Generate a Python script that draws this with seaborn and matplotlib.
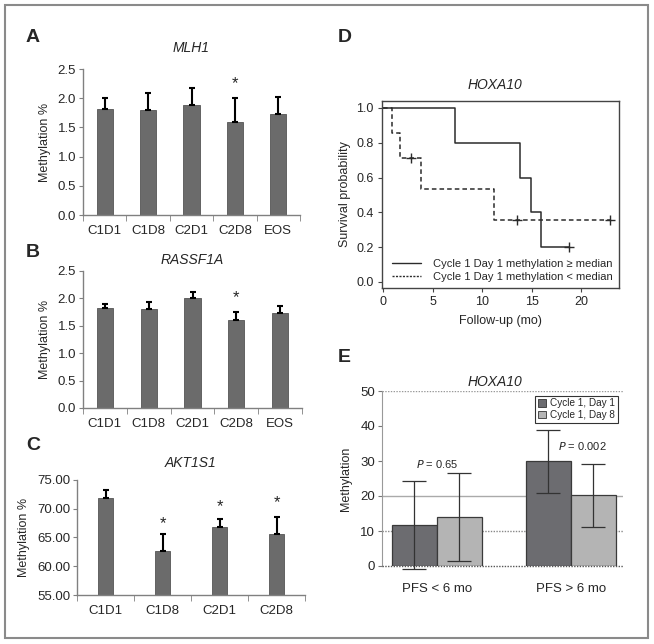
import numpy as np
import pandas as pd
import matplotlib as mpl
import matplotlib.pyplot as plt
import seaborn as sns
from matplotlib.patches import Rectangle, Patch
from matplotlib.lines import Line2D
from matplotlib.ticker import FormatStrFormatter, FixedLocator

sns.set_style("white")
plt.rcParams["font.family"] = ["Liberation Sans", "DejaVu Sans"]
mpl.rcParams["axes.unicode_minus"] = False

# --- data ---
visits5 = ["C1D1", "C1D8", "C2D1", "C2D8", "EOS"]
visits4 = ["C1D1", "C1D8", "C2D1", "C2D8"]

mlh1_mean = [1.82, 1.80, 1.88, 1.60, 1.73]
mlh1_err = [0.18, 0.29, 0.30, 0.40, 0.29]

rassf1a_mean = [1.82, 1.80, 2.00, 1.60, 1.73]
rassf1a_err = [0.08, 0.13, 0.12, 0.15, 0.13]

akt1s1_mean = [71.8, 62.7, 66.8, 65.6]
akt1s1_err = [1.4, 2.9, 1.4, 3.0]

# Kaplan-Meier steps (HOXA10)
hi_time = [0, 7.25, 13.8, 14.9, 15.9, 18.75]
hi_surv = [1.0, 0.8, 0.6, 0.4, 0.2, 0.2]
lo_time = [0, 0.9, 1.7, 3.85, 11.2, 22.9]
lo_surv = [1.0, 0.857, 0.714, 0.536, 0.357, 0.357]
hi_cens_t = [18.75]
hi_cens_s = [0.2]
lo_cens_t = [2.8, 13.5, 22.9]
lo_cens_s = [0.714, 0.357, 0.357]

pfs_groups = ["PFS < 6 mo", "PFS > 6 mo"]
cycles = ["Cycle 1, Day 1", "Cycle 1, Day 8"]
hoxa_mean = {"Cycle 1, Day 1": [11.8, 30.0], "Cycle 1, Day 8": [13.9, 20.2]}
hoxa_sd = {"Cycle 1, Day 1": [12.6, 9.0], "Cycle 1, Day 8": [12.6, 9.0]}
pvals = ["0.65", "0.002"]

W, H = 654, 644
fig = plt.figure(figsize=(W / 100, H / 100), dpi=100)


def ax_px(l, r, t, b):
    return fig.add_axes([l / W, 1 - b / H, (r - l) / W, (b - t) / H])


def ftext(x, y, s, **kw):
    fig.text(x / W, 1 - y / H, s, **kw)


spine_c = "#808080"
bar_c = "#6b6b6b"
fs = 9.5


def bar_panel(ax, cats, mean, err, width, ylim, ticks, fmt):
    df = pd.DataFrame({"visit": cats, "val": mean})
    sns.barplot(data=df, x="visit", y="val", color=bar_c, width=width,
                saturation=1, edgecolor="#555555", linewidth=0.6, ax=ax, zorder=2)
    ax.errorbar(range(len(cats)), mean, yerr=[np.zeros(len(cats)), err],
                fmt="none", ecolor="black", elinewidth=1.5, capsize=2.5,
                capthick=1.5, zorder=3)
    ax.set_ylim(*ylim)
    ax.set_xlim(-0.5, len(cats) - 0.5)
    ax.set_yticks(ticks)
    ax.yaxis.set_major_formatter(FormatStrFormatter(fmt))
    ax.set_xlabel("")
    ax.set_ylabel("Methylation %", fontsize=9, labelpad=5)
    for s in ["top", "right"]:
        ax.spines[s].set_visible(False)
    for s in ["left", "bottom"]:
        ax.spines[s].set_color(spine_c)
        ax.spines[s].set_linewidth(1.0)
    ax.tick_params(axis="y", left=True, length=3, color=spine_c, labelsize=fs, pad=2)
    ax.tick_params(axis="x", which="major", bottom=False, length=0, labelsize=fs, pad=7)
    ax.xaxis.set_minor_locator(FixedLocator(np.arange(-0.5, len(cats), 1.0)))
    ax.tick_params(axis="x", which="minor", bottom=True, length=4, color=spine_c)


# Panel A
axA = ax_px(83, 300, 69, 215)
bar_panel(axA, visits5, mlh1_mean, mlh1_err, 0.37, (0, 2.5),
          np.arange(0, 2.51, 0.5), "%.1f")
axA.text(3, 2.25, "*", ha="center", va="center", fontsize=12)

# Panel B
axB = ax_px(83, 302, 271, 408)
bar_panel(axB, visits5, rassf1a_mean, rassf1a_err, 0.37, (0, 2.5),
          np.arange(0, 2.51, 0.5), "%.1f")
axB.text(3, 2.01, "*", ha="center", va="center", fontsize=12)

# Panel C
axC = ax_px(77, 305, 480, 595)
bar_panel(axC, visits4, akt1s1_mean, akt1s1_err, 0.27, (55, 75),
          np.arange(55, 75.1, 5), "%.2f")
for i, yy in zip([1, 2, 3], [67.5, 70.4, 71.0]):
    axC.text(i, yy, "*", ha="center", va="center", fontsize=12)

# Panel D: Kaplan-Meier
axD = ax_px(382, 619, 101, 288)
km_c = "#2b2b2b"
sns.lineplot(x=hi_time, y=hi_surv, drawstyle="steps-post", color=km_c,
             lw=1.1, estimator=None, ax=axD)
sns.lineplot(x=lo_time, y=lo_surv, drawstyle="steps-post", color=km_c,
             lw=1.1, estimator=None, ax=axD, linestyle=(0, (3, 2)))
axD.plot(hi_cens_t, hi_cens_s, "+", color=km_c, ms=7, mew=1.0)
axD.plot(lo_cens_t, lo_cens_s, "+", color=km_c, ms=7, mew=1.0)
axD.set_xlim(-0.1, 23.8)
axD.set_ylim(-0.035, 1.04)
axD.set_xticks([0, 5, 10, 15, 20])
axD.set_yticks(np.arange(0, 1.01, 0.2))
axD.yaxis.set_major_formatter(FormatStrFormatter("%.1f"))
axD.set_xlabel("Follow-up (mo)", fontsize=9, labelpad=5)
axD.set_ylabel("Survival probability", fontsize=9, labelpad=4)
for s in axD.spines.values():
    s.set_color("#444444")
    s.set_linewidth(1.0)
axD.tick_params(left=True, bottom=True, length=3, color="#444444", labelsize=9, pad=3)
leg_handles = [Line2D([], [], color=km_c, lw=1.0),
               Line2D([], [], color=km_c, lw=1.0, linestyle=(0, (1.5, 1)))]
axD.legend(leg_handles, ["Cycle 1 Day 1 methylation \u2265 median",
                         "Cycle 1 Day 1 methylation < median"],
           loc="lower right", frameon=False, fontsize=8, handlelength=2.6,
           borderaxespad=0.15, labelspacing=0.3, handletextpad=1.1)

# Panel E: grouped bars
axE = ax_px(382, 623, 391, 566)
rows = []
for c in cycles:
    for g, v in zip(pfs_groups, hoxa_mean[c]):
        rows.append({"group": g, "cycle": c, "val": v})
dfE = pd.DataFrame(rows)
e_cols = {"Cycle 1, Day 1": "#6c6c70", "Cycle 1, Day 8": "#b4b4b4"}
sns.barplot(data=dfE, x="group", y="val", hue="cycle", hue_order=cycles,
            palette=e_cols, width=0.67, gap=0, saturation=1,
            edgecolor="#3a3a3a", linewidth=0.9, ax=axE, zorder=2, legend=False)
offs = [-0.1675, 0.1675]
for k, c in enumerate(cycles):
    xs = np.arange(len(pfs_groups)) + offs[k]
    axE.errorbar(xs, hoxa_mean[c], yerr=hoxa_sd[c], fmt="none", ecolor="#333333",
                 elinewidth=0.9, capsize=8.5, capthick=0.9, zorder=3, clip_on=False)
axE.axhline(50, color="#999999", lw=1.0, ls=(0, (1, 1)), zorder=1)
axE.axhline(20, color="#aaaaaa", lw=1.0, zorder=1)
axE.axhline(10, color="#888888", lw=1.0, ls=(0, (1, 1)), zorder=1)
axE.axhline(0, color="#555555", lw=1.0, ls=(0, (1, 1)), zorder=4, clip_on=False)
axE.set_ylim(0, 50)
axE.set_xlim(-0.41, 1.39)
axE.set_yticks(np.arange(0, 51, 10))
axE.set_xlabel("")
axE.set_ylabel("Methylation", fontsize=9, labelpad=6)
for s in ["top", "right", "bottom"]:
    axE.spines[s].set_visible(False)
axE.spines["left"].set_color("#999999")
axE.spines["left"].set_linewidth(0.8)
axE.tick_params(axis="y", left=True, length=3, color="#777777", labelsize=fs, pad=2)
axE.tick_params(axis="x", bottom=False, labelsize=fs, pad=9)
for i, (p, yy) in enumerate(zip(pvals, [29.1, 34.3])):
    axE.text(i + (0.0 if i == 0 else 0.09), yy, "$P$ = " + p, ha="center",
             va="center", fontsize=8)
e_handles = [Patch(facecolor=e_cols[c], edgecolor="#333333", lw=0.6) for c in cycles]
legE = axE.legend(e_handles, cycles, loc="upper right", fontsize=7.2,
                  frameon=True, fancybox=False, edgecolor="black",
                  handlelength=0.8, handleheight=0.8, handletextpad=0.5,
                  borderpad=0.25, labelspacing=0.15, borderaxespad=0.5)
legE.get_frame().set_linewidth(0.8)

# titles and panel letters
ftext(191, 48, "MLH1", ha="center", va="center", fontsize=10, style="italic")
ftext(192, 260, "RASSF1A", ha="center", va="center", fontsize=10, style="italic")
ftext(191, 463, "AKT1S1", ha="center", va="center", fontsize=10, style="italic")
ftext(495, 85, "HOXA10", ha="center", va="center", fontsize=10, style="italic")
ftext(495, 382, "HOXA10", ha="center", va="center", fontsize=10, style="italic")
for letter, x, y in [("A", 26, 37), ("B", 26, 253), ("C", 26, 445),
                     ("D", 338, 37), ("E", 338, 357)]:
    ftext(x, y, letter, ha="left", va="center", fontsize=14, fontweight="bold")

# outer frame
fig.patches.append(Rectangle((5 / W, 6 / H), 643 / W, 633 / H, transform=fig.transFigure,
                             fill=False, edgecolor="#8a8a8a", lw=1.5))

fig.savefig("out.png", dpi=100)
